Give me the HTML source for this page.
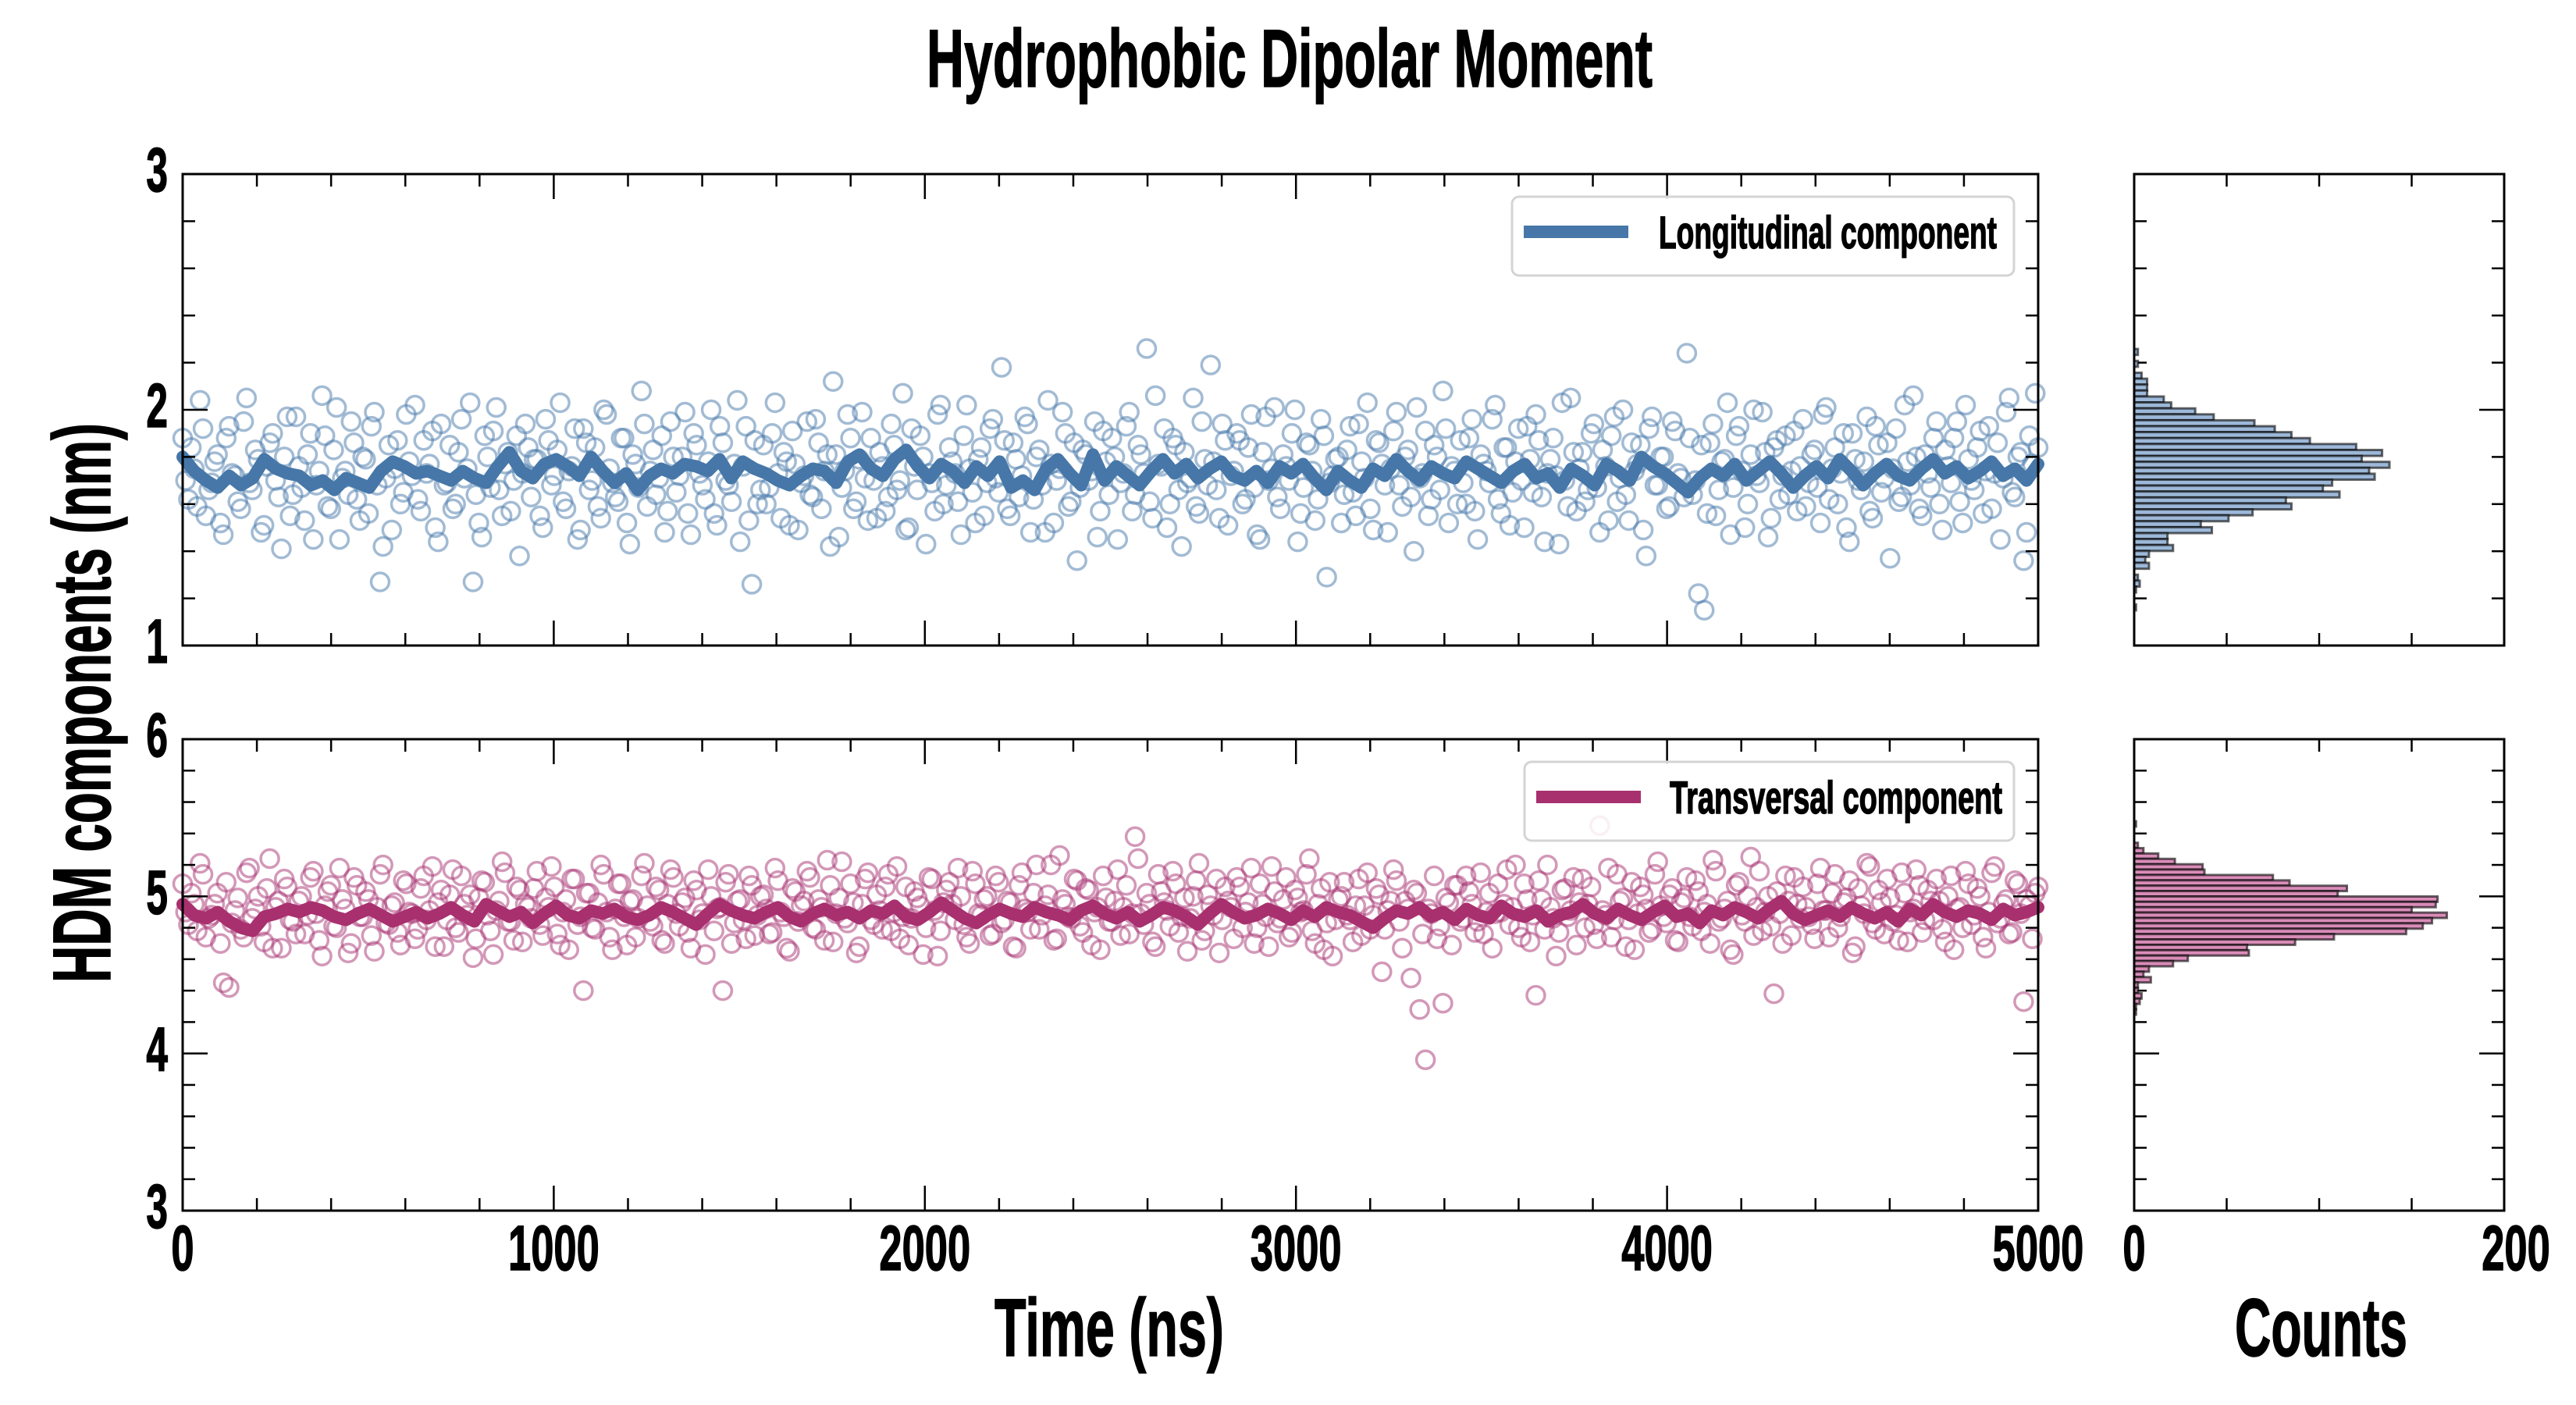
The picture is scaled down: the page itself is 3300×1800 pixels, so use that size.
<!DOCTYPE html>
<html><head><meta charset="utf-8">
<style>
html,body{margin:0;padding:0;background:#fff;}
svg{display:block;}
text{font-family:"Liberation Sans",sans-serif;font-weight:bold;fill:#000;stroke:#000;stroke-width:1.5;}
</style></head>
<body>
<svg id="chart" width="3300" height="1800" viewBox="0 0 3300 1800" xmlns="http://www.w3.org/2000/svg">
<rect width="3300" height="1800" fill="#fff"/>
<text x="1187" y="111" font-size="105" textLength="930" lengthAdjust="spacingAndGlyphs">Hydrophobic Dipolar Moment</text>
<text x="1274" y="1737" font-size="105" textLength="294" lengthAdjust="spacingAndGlyphs">Time (ns)</text>
<text x="2863" y="1737" font-size="105" textLength="221" lengthAdjust="spacingAndGlyphs">Counts</text>
<text x="0" y="0" font-size="105" textLength="717" lengthAdjust="spacingAndGlyphs" transform="translate(141,1259) rotate(-90)">HDM components (nm)</text>
<g id="plots"></g>
</svg>
<script>
// ---------- data ----------
const timeMax = 5000;
// even samples
const longScatterA = [
1.88,1.62,1.75,2.04,1.55,1.69,1.81,1.47,1.93,1.72,1.58,2.05,1.66,1.79,1.51,1.86,1.70,1.41,1.97,1.64,
1.76,1.53,1.90,1.68,2.06,1.59,1.83,1.45,1.74,1.95,1.62,1.80,1.56,1.99,1.27,1.71,1.49,1.87,1.65,1.78,
2.02,1.57,1.73,1.91,1.44,1.68,1.85,1.60,1.96,1.75,1.27,1.52,1.89,1.67,2.01,1.55,1.82,1.70,1.38,1.94,
1.63,1.79,1.50,1.87,1.72,2.03,1.58,1.76,1.45,1.92,1.66,1.84,1.54,1.98,1.69,1.61,1.88,1.43,1.77,2.08,
1.59,1.83,1.71,1.48,1.95,1.65,1.80,1.56,1.90,1.73,1.62,2.00,1.51,1.86,1.68,1.77,1.44,1.93,1.26,1.60,
1.85,1.67,2.03,1.54,1.78,1.91,1.49,1.72,1.64,1.96,1.58,1.81,2.12,1.46,1.74,1.88,1.61,1.99,1.53,1.70,
1.82,1.57,1.94,1.66,2.07,1.50,1.76,1.89,1.43,1.69,1.98,1.60,1.84,1.73,1.47,2.02,1.65,1.79,1.55,1.92,
1.71,2.18,1.58,1.86,1.63,1.97,1.48,1.80,1.68,2.04,1.52,1.75,1.90,1.61,1.36,1.83,1.70,1.95,1.57,1.78,
1.88,1.45,1.73,1.99,1.64,1.81,2.26,1.54,1.77,1.92,1.60,1.85,1.42,1.69,2.05,1.56,1.79,2.19,1.66,1.94,
1.51,1.74,1.87,1.62,1.98,1.47,1.82,1.70,2.01,1.58,1.76,1.90,1.44,1.67,1.85,1.53,1.96,1.29,1.72,1.80,
1.64,1.93,1.55,1.78,2.03,1.49,1.86,1.68,1.75,1.99,1.59,1.83,1.40,1.71,1.91,1.62,1.80,2.08,1.52,1.74,
1.87,1.60,1.96,1.45,1.77,1.69,2.02,1.56,1.84,1.65,1.92,1.50,1.79,1.98,1.63,1.73,1.88,1.43,1.70,2.05,
1.57,1.82,1.66,1.94,1.48,1.76,1.89,1.61,2.00,1.53,1.74,1.85,1.38,1.97,1.68,1.80,1.59,1.91,1.71,2.24,
1.64,1.22,1.15,1.86,1.55,1.78,2.03,1.67,1.93,1.50,1.81,1.72,1.99,1.46,1.84,1.62,1.89,1.74,1.57,1.96,
1.69,1.83,1.52,2.01,1.75,1.60,1.90,1.44,1.79,1.66,1.97,1.54,1.85,1.71,1.37,1.92,1.63,1.78,2.06,1.58,
1.81,1.67,1.95,1.49,1.76,1.88,1.61,2.02,1.70,1.84,1.56,1.93,1.73,1.45,1.99,1.65,1.80,1.36,1.89,2.07];
// odd samples
const longScatterB = [
1.70,1.84,1.59,1.92,1.66,1.78,1.52,1.88,1.73,1.61,1.95,1.69,1.83,1.48,1.76,1.90,1.63,1.80,1.55,1.97,
1.67,1.81,1.45,1.74,1.89,1.58,2.01,1.71,1.64,1.86,1.53,1.79,1.93,1.68,1.42,1.85,1.75,1.60,1.98,1.72,
1.62,1.87,1.77,1.50,1.94,1.69,1.58,1.82,1.71,2.03,1.64,1.46,1.80,1.91,1.66,1.77,1.57,1.89,1.73,1.84,
1.79,1.55,1.96,1.68,1.83,1.61,1.74,1.92,1.49,1.86,1.70,1.59,2.00,1.75,1.63,1.88,1.52,1.81,1.67,1.94,
1.74,1.64,1.89,1.57,1.80,1.72,1.99,1.47,1.85,1.68,1.78,1.56,1.93,1.70,1.61,2.04,1.76,1.53,1.87,1.66,
1.60,1.90,1.73,1.82,1.51,1.77,1.69,1.95,1.63,1.86,1.74,1.42,1.81,1.67,1.98,1.58,1.79,1.71,1.88,1.54,
1.76,1.63,1.85,1.70,1.49,1.92,1.66,1.80,1.73,1.57,2.02,1.68,1.78,1.61,1.89,1.75,1.52,1.84,1.69,1.96,
1.65,1.87,1.55,1.79,1.72,1.94,1.62,1.83,1.48,1.77,1.70,1.99,1.59,1.86,1.67,1.81,1.74,1.46,1.91,1.64,
1.80,1.69,1.93,1.57,1.85,1.73,1.61,2.06,1.76,1.50,1.88,1.66,1.82,1.71,1.59,1.95,1.68,1.78,1.54,1.87,
1.72,1.90,1.60,1.84,1.67,1.45,1.97,1.75,1.63,1.81,1.70,2.00,1.56,1.86,1.74,1.62,1.89,1.69,1.79,1.52,
1.83,1.65,1.94,1.71,1.58,1.87,1.77,1.48,1.91,1.68,1.80,1.63,2.01,1.73,1.55,1.85,1.66,1.92,1.76,1.60,
1.69,1.88,1.57,1.81,1.74,1.96,1.62,1.84,1.51,1.78,1.70,1.93,1.65,1.87,1.44,1.79,1.72,2.03,1.59,1.82,
1.75,1.61,1.90,1.67,1.83,1.53,1.97,1.71,1.64,1.86,1.77,1.49,1.92,1.68,1.80,1.58,1.95,1.73,1.63,1.88,
1.70,1.85,1.56,1.94,1.66,1.79,1.47,1.89,1.74,1.60,2.00,1.69,1.82,1.54,1.87,1.72,1.64,1.91,1.76,1.59,
1.81,1.67,1.98,1.62,1.84,1.73,1.50,1.90,1.70,1.78,1.57,1.93,1.65,1.86,1.75,1.61,2.02,1.68,1.80,1.55,
1.73,1.88,1.60,1.83,1.69,1.95,1.52,1.79,1.66,1.91,1.74,1.58,1.86,1.71,2.05,1.63,1.82,1.48,1.77,1.84];
const transScatterA = [
5.08,4.82,4.95,5.21,4.74,4.88,5.02,4.45,4.42,4.91,4.79,5.15,4.86,5.00,4.71,5.24,4.93,4.67,5.06,4.84,
4.97,4.76,5.12,4.89,4.62,5.03,4.81,5.18,4.92,4.70,5.07,4.87,4.98,4.65,5.14,4.83,4.94,4.77,5.10,4.90,
4.73,5.05,4.85,5.19,4.96,4.68,5.01,4.80,5.13,4.88,4.61,4.99,5.09,4.78,4.91,5.22,4.84,4.72,5.04,4.95,
4.86,5.16,4.75,4.93,5.06,4.69,4.98,5.11,4.82,4.40,5.02,4.79,5.20,4.90,4.66,5.08,4.87,4.97,4.74,5.13,
4.94,4.81,5.04,4.70,5.17,4.89,4.96,4.77,5.10,4.85,4.63,5.00,4.92,4.40,5.14,4.83,4.98,4.73,5.07,4.88,
5.01,4.76,5.18,4.90,4.67,5.05,4.84,4.97,5.12,4.79,4.93,5.23,4.71,4.99,4.86,5.08,4.64,4.95,5.15,4.82,
4.91,5.06,4.78,5.19,4.87,4.69,5.03,4.94,4.80,5.11,4.62,4.96,5.09,4.85,5.00,4.74,5.16,4.89,4.98,4.75,
5.13,4.83,4.97,4.68,5.07,4.92,4.79,5.20,4.88,5.01,4.72,5.26,4.95,4.86,5.10,4.77,5.04,4.90,4.66,4.99,
4.84,5.17,4.93,4.76,5.38,4.89,5.02,4.71,5.14,4.96,4.81,5.08,4.87,4.65,5.00,5.21,4.78,4.94,5.11,4.85,
4.97,4.73,5.06,4.90,5.18,4.80,4.95,4.68,5.03,4.86,5.12,4.77,4.99,4.91,5.24,4.70,5.05,4.83,4.62,4.98,
5.09,4.85,4.94,4.75,5.15,4.88,5.01,4.79,4.97,5.10,4.67,4.92,5.04,4.28,3.96,4.89,4.73,4.32,4.96,5.07,
4.84,5.13,4.95,4.84,4.76,5.02,4.89,4.90,5.17,4.93,4.80,5.08,4.71,4.37,4.98,5.20,4.86,4.77,5.05,4.91,
4.69,5.11,4.95,4.82,5.45,4.88,4.74,5.14,4.99,4.85,4.66,5.06,4.92,4.79,5.22,4.87,5.01,4.72,4.96,5.12,
4.81,5.03,4.90,4.70,5.16,4.86,4.97,4.63,5.09,4.84,5.25,4.93,4.78,5.00,4.38,4.89,5.13,4.75,4.95,5.06,
4.87,4.73,5.18,4.91,5.02,4.80,4.96,5.10,4.68,4.94,5.21,4.83,5.04,4.76,4.99,4.88,5.15,4.71,4.92,5.07,
4.85,4.97,5.11,4.79,5.00,4.66,4.93,5.16,4.82,5.05,4.74,4.90,5.19,4.86,4.98,4.77,5.08,4.33,4.94,5.02];
const transScatterB = [
4.90,5.02,4.78,5.14,4.86,4.95,4.70,5.09,4.83,4.99,4.74,5.18,4.92,4.81,5.05,4.67,4.97,5.11,4.85,4.76,
5.00,4.88,5.16,4.72,4.94,5.07,4.80,4.98,4.64,5.12,4.87,5.03,4.75,4.93,5.20,4.82,4.96,4.69,5.08,4.89,
4.79,5.13,4.91,4.68,5.04,4.85,5.17,4.77,4.95,5.01,4.73,5.10,4.88,4.63,4.97,5.15,4.84,5.06,4.71,4.93,
5.05,4.82,4.99,5.19,4.76,4.90,4.66,5.11,4.87,5.02,4.80,4.96,5.14,4.74,4.92,5.08,4.69,4.98,4.86,5.21,
4.84,5.06,4.72,4.95,5.12,4.81,4.99,4.67,5.04,4.89,5.17,4.78,4.93,5.09,4.70,4.97,4.85,5.13,4.75,5.00,
4.92,4.77,5.10,4.87,4.65,5.03,4.94,5.16,4.80,4.98,4.72,5.07,4.89,5.22,4.83,4.96,4.68,5.11,4.85,5.01,
4.79,5.14,4.90,4.73,5.06,4.86,4.99,4.63,5.12,4.91,4.78,5.04,4.95,5.18,4.82,4.70,5.08,4.88,5.00,4.76,
5.09,4.85,4.96,4.67,5.15,4.90,5.02,4.79,4.94,5.20,4.73,4.98,4.87,5.11,4.81,5.05,4.69,4.93,5.13,4.84,
4.97,4.75,5.07,4.89,5.24,4.82,4.95,4.68,5.03,4.91,5.16,4.77,4.99,4.86,5.10,4.72,5.01,4.88,4.64,5.06,
4.93,5.12,4.80,4.96,4.70,5.08,4.87,5.19,4.83,4.98,4.74,5.04,4.90,5.14,4.78,4.95,4.66,5.09,4.85,5.00,
4.88,4.71,5.11,4.94,4.79,5.05,4.52,4.91,5.17,4.84,4.97,4.48,5.02,4.76,4.92,5.13,4.81,4.99,4.69,5.07,
4.86,5.03,4.77,5.15,4.90,4.67,5.08,4.95,4.82,5.20,4.74,4.98,4.88,5.10,4.79,4.93,4.62,5.04,4.87,5.12,
4.96,4.80,5.06,4.73,4.91,5.18,4.85,4.97,4.68,5.09,4.89,5.01,4.77,5.14,4.94,4.83,5.05,4.71,4.99,4.87,
5.10,4.78,4.95,5.23,4.84,4.92,4.66,5.07,4.88,5.00,4.75,5.16,4.90,4.81,5.03,4.70,4.97,5.12,4.86,4.93,
4.82,5.08,4.91,4.74,5.14,4.87,4.99,4.64,5.05,4.89,5.19,4.79,4.96,5.11,4.84,4.72,5.02,4.90,5.17,4.77,
5.04,4.85,4.97,4.71,5.13,4.92,4.80,5.08,4.88,5.00,4.67,5.15,4.83,4.95,4.76,5.10,4.89,4.98,4.73,5.06];
const longLine = [
1.80,1.74,1.70,1.67,1.72,1.68,1.71,1.79,1.75,1.73,1.72,1.68,1.70,1.66,1.71,1.69,1.67,1.74,1.78,1.76,
1.73,1.74,1.72,1.70,1.74,1.71,1.69,1.76,1.82,1.74,1.71,1.77,1.79,1.76,1.72,1.80,1.74,1.69,1.73,1.66,
1.72,1.75,1.73,1.77,1.76,1.74,1.79,1.71,1.78,1.75,1.73,1.70,1.68,1.72,1.75,1.74,1.69,1.78,1.81,1.75,
1.72,1.79,1.83,1.76,1.71,1.77,1.74,1.69,1.76,1.72,1.78,1.67,1.70,1.66,1.75,1.79,1.73,1.68,1.81,1.70,
1.76,1.72,1.68,1.74,1.79,1.73,1.77,1.71,1.75,1.78,1.72,1.70,1.74,1.69,1.76,1.73,1.77,1.71,1.66,1.74,
1.70,1.67,1.75,1.72,1.79,1.74,1.70,1.76,1.73,1.71,1.78,1.75,1.72,1.69,1.74,1.77,1.71,1.73,1.67,1.75,
1.72,1.68,1.77,1.74,1.70,1.80,1.76,1.73,1.69,1.65,1.71,1.75,1.72,1.77,1.70,1.74,1.78,1.73,1.67,1.72,
1.76,1.71,1.79,1.74,1.68,1.73,1.77,1.72,1.70,1.75,1.79,1.73,1.76,1.71,1.74,1.78,1.72,1.75,1.70,1.77];
const transLine = [
4.95,4.88,4.86,4.90,4.84,4.80,4.78,4.87,4.89,4.92,4.90,4.93,4.91,4.87,4.85,4.89,4.92,4.88,4.84,4.87,
4.90,4.86,4.89,4.93,4.88,4.84,4.95,4.91,4.87,4.90,4.83,4.89,4.94,4.88,4.86,4.91,4.89,4.92,4.87,4.85,
4.88,4.93,4.90,4.86,4.82,4.89,4.95,4.91,4.88,4.86,4.90,4.93,4.87,4.84,4.89,4.92,4.88,4.90,4.86,4.91,
4.89,4.94,4.87,4.85,4.90,4.96,4.91,4.86,4.83,4.88,4.92,4.89,4.87,4.93,4.90,4.88,4.85,4.91,4.94,4.89,
4.86,4.90,4.84,4.88,4.93,4.91,4.87,4.82,4.89,4.95,4.90,4.86,4.88,4.92,4.89,4.85,4.91,4.87,4.93,4.90,
4.88,4.84,4.80,4.86,4.91,4.89,4.93,4.87,4.90,4.85,4.92,4.88,4.86,4.94,4.89,4.87,4.91,4.84,4.88,4.90,
4.95,4.89,4.86,4.92,4.88,4.85,4.90,4.94,4.87,4.89,4.83,4.91,4.88,4.93,4.90,4.86,4.92,4.97,4.89,4.85,
4.88,4.91,4.87,4.93,4.89,4.86,4.90,4.84,4.92,4.88,4.95,4.90,4.87,4.91,4.89,4.85,4.92,4.88,4.90,4.93];
// histogram counts, listed from the highest bin downward
const longHistTop = 2.258;
const longHistBin = 0.0252;
const longHistCounts = [2,0,2,0,4,7,7,7,16,20,33,43,65,76,85,95,120,134,123,138,127,130,107,102,111,82,85,64,51,36,42,18,18,21,8,6,8,0,2,3,1,0,0,1];
const transHistTop = 5.478;
const transHistBin = 0.0342;
const transHistCounts = [1,0,0,0,2,5,13,22,37,38,75,84,115,110,164,163,150,169,161,156,147,108,87,61,62,29,21,8,5,9,2,2,4,3,1,1];
const xTickLabels = ["0","1000","2000","3000","4000","5000"];
const longYTicks = ["1","2","3"];
const transYTicks = ["3","4","5","6"];
const countTickLabels = ["0","200"];

// ---------- layout ----------
const NS = "http://www.w3.org/2000/svg";
const root = document.getElementById("plots");
const X0 = 234, X1 = 2611, H0 = 2734, H1 = 3208;
const panels = [
  {key:"longitudinal", top:223, bot:827, ymin:1, ymax:3, scatterA:longScatterA, scatterB:longScatterB, line:longLine,
   stroke:"rgba(70,120,170,0.5)", lineColor:"#4677a8", histFill:"#9db8d8",
   histTop:longHistTop, histBin:longHistBin, hist:longHistCounts, yTicks:longYTicks,
   legend:"Longitudinal component", lx:1937, ltextX:2125, ltextW:433},
  {key:"transversal", top:947, bot:1551, ymin:3, ymax:6, scatterA:transScatterA, scatterB:transScatterB, line:transLine,
   stroke:"rgba(168,50,114,0.5)", lineColor:"#a8306f", histFill:"#d98cb8",
   histTop:transHistTop, histBin:transHistBin, hist:transHistCounts, yTicks:transYTicks,
   legend:"Transversal component", lx:1953, ltextX:2139, ltextW:426}
];
function el(tag, attrs, parent){
  const e = document.createElementNS(NS, tag);
  for (const k in attrs) e.setAttribute(k, attrs[k]);
  (parent||root).appendChild(e);
  return e;
}
const xScale = t => X0 + (t / timeMax) * (X1 - X0);
const cScale = c => H0 + (c / 200) * (H1 - H0);

panels.forEach(p => {
  const yScale = v => p.bot - (v - p.ymin) / (p.ymax - p.ymin) * (p.bot - p.top);
  const g = el("g", {});
  
  

  // scatter
  const sg = el("g", {fill:"none", stroke:p.stroke, "stroke-width":3.5}, g);
  
  
  const n = p.scatterA.length + p.scatterB.length;
  [p.scatterA, p.scatterB].forEach((arr, off) => {
    arr.forEach((v, i) => {
      const c = el("circle", {cx:xScale((2 * i + off) * timeMax / (n - 1)), cy:yScale(v), r:11.5}, sg);
      
      
    });
  });
  // running line
  const m = p.line.length;
  const pts = p.line.map((v, i) => xScale(i * timeMax / (m - 1)).toFixed(1) + "," + yScale(v).toFixed(1)).join(" ");
  const pl = el("polyline", {points:pts, fill:"none", stroke:p.lineColor, "stroke-width":16, "stroke-linejoin":"round", "stroke-linecap":"round"}, g);
  
  

  // ticks
  const tg = el("g", {stroke:"#000", "stroke-width":2.5}, g);
  
  
  for (let t = 0; t <= timeMax; t += 200) {
    const L = (t % 1000 === 0) ? 32 : 16;
    const x = xScale(t);
    el("line", {x1:x, y1:p.bot, x2:x, y2:p.bot - L}, tg);
    el("line", {x1:x, y1:p.top, x2:x, y2:p.top + L}, tg);
  }
  for (let k = 0; k <= Math.round((p.ymax - p.ymin) / 0.2); k++) {
    const v = p.ymin + k * 0.2;
    const L = (k % 5 === 0) ? 32 : 16;
    const y = yScale(v);
    el("line", {x1:X0, y1:y, x2:X0 + L, y2:y}, tg);
    el("line", {x1:X1, y1:y, x2:X1 - L, y2:y}, tg);
    el("line", {x1:H0, y1:y, x2:H0 + L, y2:y}, tg);
    el("line", {x1:H1, y1:y, x2:H1 - L, y2:y}, tg);
  }
  [50,100,150].forEach(c => {
    el("line", {x1:cScale(c), y1:p.bot, x2:cScale(c), y2:p.bot - 16}, tg);
    el("line", {x1:cScale(c), y1:p.top, x2:cScale(c), y2:p.top + 16}, tg);
  });

  // y tick labels
  p.yTicks.forEach(s => {
    const t = el("text", {x:0, y:0, "font-size":80, "text-anchor":"end",
      transform:"translate(215," + (yScale(parseFloat(s)) + 22) + ") scale(0.62,1)"}, g);
    t.textContent = s;
    
    
  });

  // histogram
  const hg = el("g", {}, g);
  
  
  const bh = p.histBin / (p.ymax - p.ymin) * (p.bot - p.top);
  p.hist.forEach((c, i) => {
    if (c <= 0) return;
    const vTop = p.histTop - i * p.histBin;
    const b = el("rect", {x:H0, y:yScale(vTop), width:cScale(c) - H0, height:bh,
      fill:p.histFill, stroke:"rgba(0,0,0,0.6)", "stroke-width":3}, hg);
    
    
  });

  // frames
  const f1 = el("rect", {x:X0, y:p.top, width:X1 - X0, height:p.bot - p.top, fill:"none", stroke:"#000", "stroke-width":3}, g);
  
  
  const f2 = el("rect", {x:H0, y:p.top, width:H1 - H0, height:p.bot - p.top, fill:"none", stroke:"#000", "stroke-width":3}, g);
  
  

  // legend
  const lg = el("g", {}, g);
  
  
  const ly = p.top + 29;
  el("rect", {x:p.lx, y:ly, width:2580 - p.lx, height:101, rx:9, fill:"rgba(255,255,255,0.85)", stroke:"#d4d4d4", "stroke-width":3}, lg);
  const sw = el("line", {x1:p.lx + 15, y1:ly + 45, x2:p.lx + 149, y2:ly + 45, stroke:p.lineColor, "stroke-width":16}, lg);
  
  
  const lt = el("text", {x:p.ltextX, y:ly + 66, "font-size":58, textLength:p.ltextW, lengthAdjust:"spacingAndGlyphs"}, lg);
  lt.textContent = p.legend;
  
  
});

// x tick labels
xTickLabels.forEach(s => {
  const t = el("text", {x:0, y:0, "font-size":82, "text-anchor":"middle",
    transform:"translate(" + xScale(parseFloat(s)) + ",1627) scale(0.64,1)"});
  t.textContent = s;
  
  
});
countTickLabels.forEach(s => {
  const t = el("text", {x:0, y:0, "font-size":82, "text-anchor":"middle",
    transform:"translate(" + (cScale(parseFloat(s)) + (s === "200" ? 15 : 0)) + ",1627) scale(0.64,1)"});
  t.textContent = s;
  
  
});
</script>
</body></html>
